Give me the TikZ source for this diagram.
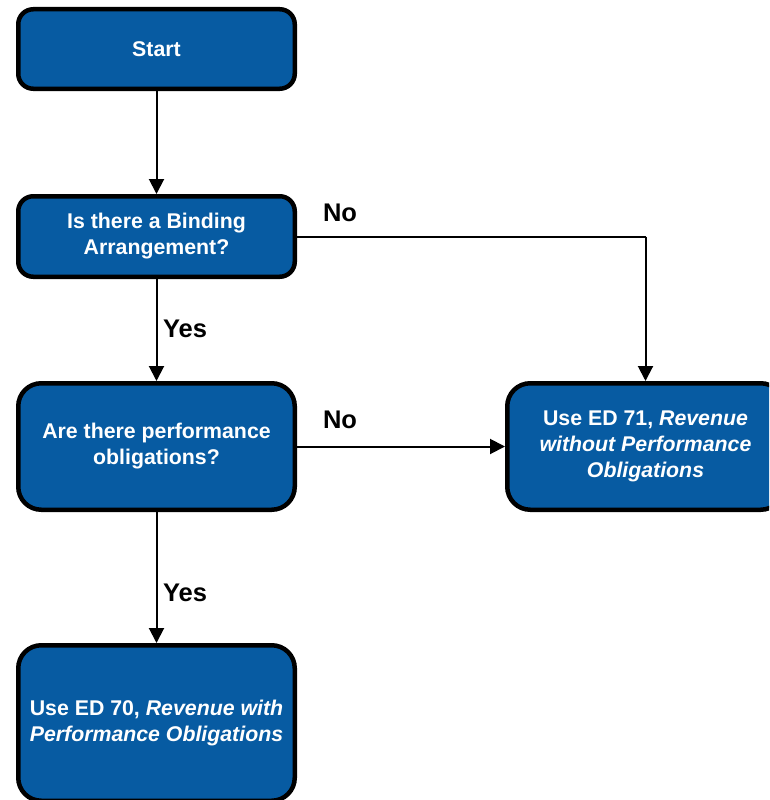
\documentclass[tikz,border=0pt]{standalone}
\usepackage{fontspec}
\setmainfont{Liberation Sans}
\usetikzlibrary{arrows.meta}
\definecolor{boxblue}{HTML}{075BA2}
\tikzset{
  box/.style={draw=black, line width=4.5pt, fill=boxblue, text=white, align=center,
    minimum width=276.5pt, inner sep=0pt,
    font=\fontsize{21.3}{26}\selectfont\bfseries},
  conn/.style={draw=black, line width=2pt, -{Triangle[length=15pt,width=15pt]}},
  plain/.style={draw=black, line width=2pt},
  lbl/.style={font=\fontsize{25.5}{30}\selectfont\bfseries, text=black, inner sep=0pt}
}
\begin{document}
\begin{tikzpicture}[x=1pt,y=-1pt]
\useasboundingbox (0,0) rectangle (769,800);
\clip (0,0) rectangle (769,800);
\node[box, rounded corners=15pt, minimum height=79.5pt] (start) at (156.5,49) {Start};
\node[box, rounded corners=15pt, minimum height=80.5pt] (bind) at (156.5,236.5) {Is there a Binding\\Arrangement?};
\node[box, rounded corners=23pt, minimum height=126.5pt] (perf) at (156.5,446.5) {Are there performance\\obligations?};
\node[box, rounded corners=23pt, minimum height=126.5pt] (ed71) at (645.5,446.5) {Use ED 71, \textit{Revenue}\\\textit{without Performance}\\\textit{Obligations}};
\node[box, rounded corners=23pt, minimum height=155.5pt] (ed70) at (156.5,723) {Use ED 70, \textit{Revenue with}\\\textit{Performance Obligations}};
\coordinate (corner) at (bind.east -| ed71.north);
\draw[conn] (start) -- (bind);
\draw[conn] (bind) -- (perf);
\draw[conn] (perf) -- (ed70);
\draw[conn] (perf) -- (ed71);
\draw[plain] (bind.east) -- (corner);
\draw[conn] (corner) -- (ed71.north);
\node[lbl] (no1) at (340,213) {No};
\node[lbl] (no2) at (340,420) {No};
\node[lbl] (yes1) at (185,329) {Yes};
\node[lbl] (yes2) at (185,593) {Yes};
\end{tikzpicture}
\end{document}
